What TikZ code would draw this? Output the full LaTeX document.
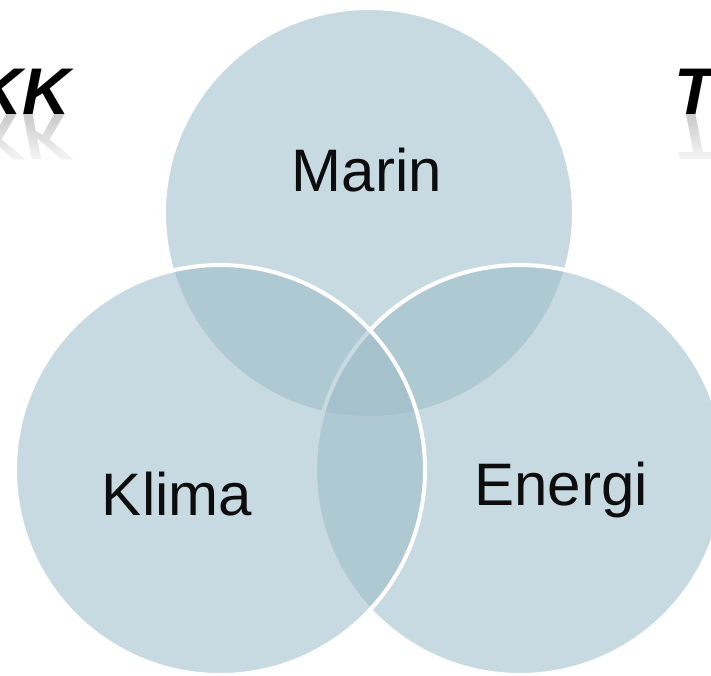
\documentclass[tikz,border=0pt]{standalone}
\usepackage{fontspec}
\setmainfont{Liberation Sans}
\usepackage{tikz}
\usetikzlibrary{positioning,fadings}
\definecolor{vennblue}{HTML}{9ABAC7}
\tikzfading[name=glow, top color=transparent!100, middle color=transparent!0,
  bottom color=transparent!0]

\begin{document}
\begin{tikzpicture}[
  x=1pt,y=-1pt,
  venn/.style={circle,draw=white,line width=4pt,fill=vennblue,
   fill opacity=0.54,minimum size=410pt,inner sep=0pt},
  lbl/.style={inner sep=0pt,font=\fontsize{60}{72}\selectfont,text=black!95},
  headline/.style={inner sep=0pt,font=\fontsize{66}{78}\selectfont\bfseries\itshape},
  mirror/.style={headline,yscale=-1,text=black!20}
  ]
  \useasboundingbox (0,0) rectangle (711,676);
  \clip (0,0) rectangle (711,676);

  % the three circles, drawn in this order
  \node[venn] (marin) at (369,213) {};
  \node[venn] (energi) at (520,470) {};
  \node[venn] (klima) at (220,470) {};

  \node[lbl,anchor=base] (marintext) at (367,192) {Marin};
  \node[lbl,anchor=base] (klimatext) at (177,515) {Klima};
  \node[lbl,anchor=base] (energitext) at (561,505) {Energi};

  % cut-off headline words with their reflections
  \node[headline,anchor=base east] (kk) at (70,115) {KK};
  \node[mirror,anchor=base east] (kkmirror) at (70,115) {KK};
  \node[headline,anchor=base west] (tt) at (674,115) {T};
  \node[mirror,anchor=base west] (ttmirror) at (674,115) {T};
  \fill[white,path fading=glow] (0,116) rectangle (100,170);
  \fill[white,path fading=glow] (640,116) rectangle (711,170);
\end{tikzpicture}
\end{document}
